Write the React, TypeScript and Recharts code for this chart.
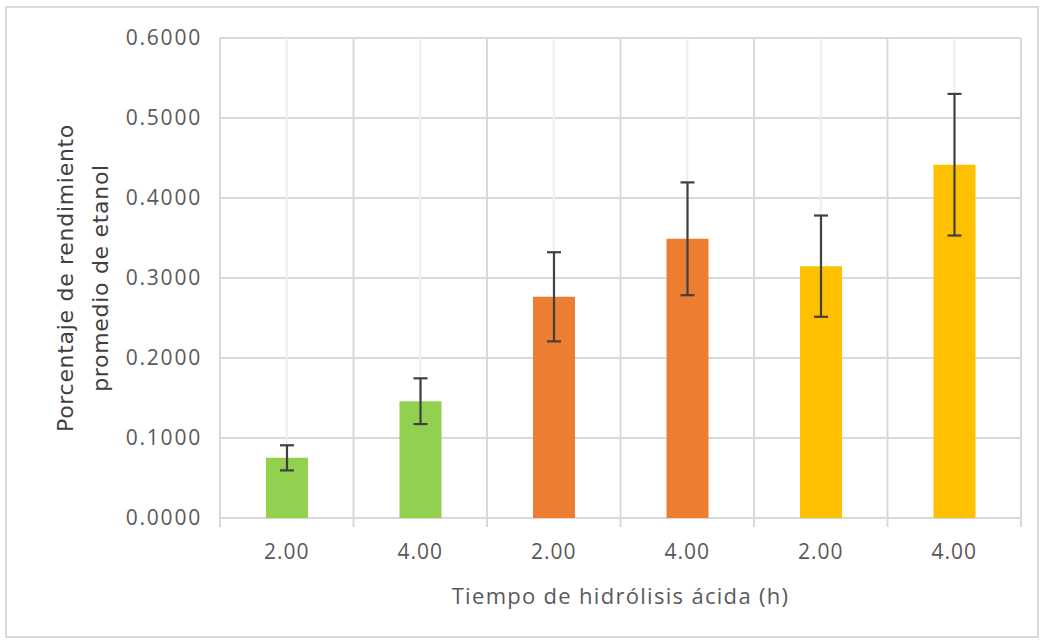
import React from "react";
import {
  BarChart,
  Bar,
  Cell,
  ErrorBar,
  XAxis,
  YAxis,
  CartesianGrid,
} from "recharts";

const timeLabels = ["2.00", "4.00", "2.00", "4.00", "2.00", "4.00"];
const yieldValues = [0.0752, 0.146, 0.2765, 0.349, 0.3148, 0.4416];
const yieldErrors = [0.0157, 0.0286, 0.0557, 0.0705, 0.0633, 0.0885];
const barColors = ["#92d050", "#92d050", "#ed7d31", "#ed7d31", "#ffc000", "#ffc000"];
const yTicks = [0, 0.1, 0.2, 0.3, 0.4, 0.5, 0.6];

const data = timeLabels.map((label, i) => ({
  label,
  value: yieldValues[i],
  err: yieldErrors[i],
}));

const GRID = "#d9d9d9";
const TEXT = "#595959";
const TICK_GAP = 26;

// category label plus the short boundary tick marks below the axis
const XTick = (props: any) => {
  const { x, y, payload, index, width, visibleTicksCount } = props;
  const band = width / visibleTicksCount;
  const top = y - TICK_GAP;
  return (
    <g>
      <line x1={x - band / 2} x2={x - band / 2} y1={top} y2={top + 9} stroke={GRID} strokeWidth={2} />
      {index === visibleTicksCount - 1 && (
        <line x1={x + band / 2} x2={x + band / 2} y1={top} y2={top + 9} stroke={GRID} strokeWidth={2} />
      )}
      <text
        x={x}
        y={y}
        dy="0.71em"
        textAnchor="middle"
        fill={TEXT}
        fontSize={21}
        letterSpacing={1}
        fontFamily="Open Sans"
      >
        {payload.value}
      </text>
    </g>
  );
};

const YTitle = (props: any) => {
  const vb = props.viewBox || { x: 0, y: 0, width: 0, height: 0 };
  const cy = vb.y + vb.height / 2;
  const style = { fill: "#404040", fontSize: 22, fontFamily: "DejaVu Sans", letterSpacing: 0.7 };
  return (
    <g>
      <text x={0} y={0} transform={`translate(73, ${cy}) rotate(-90)`} textAnchor="middle" {...style}>
        Porcentaje de rendimiento
      </text>
      <text x={0} y={0} transform={`translate(108, ${cy}) rotate(-90)`} textAnchor="middle" {...style}>
        promedio de etanol
      </text>
    </g>
  );
};

export default function App() {
  return (
    <div style={{ position: "absolute", left: 0, top: 0, width: 1045, height: 643, background: "#fff" }}>
      <div
        style={{
          position: "absolute",
          left: 5,
          top: 6,
          width: 1034,
          height: 632,
          border: "2px solid #d9d9d9",
          boxSizing: "border-box",
        }}
      />
      <BarChart
        width={1045}
        height={643}
        data={data}
        margin={{ top: 38, right: 24, left: 0, bottom: 0 }}
        barCategoryGap={0}
      >
        <CartesianGrid vertical={false} stroke={GRID} strokeWidth={2} />
        <CartesianGrid horizontal={false} stroke="#eeeeee" strokeWidth={2} />
        <CartesianGrid
          horizontal={false}
          stroke={GRID}
          strokeWidth={2}
          verticalCoordinatesGenerator={({ offset }: any) =>
            timeLabels.map((_, i) => offset.left + (i * offset.width) / timeLabels.length).concat(offset.left + offset.width)
          }
        />
        <XAxis
          dataKey="label"
          height={125}
          axisLine={false}
          tickLine={false}
          tickSize={0}
          tickMargin={TICK_GAP}
          tick={<XTick />}
          label={{
            value: "Tiempo de hidrólisis ácida (h)",
            position: "insideBottom",
            offset: 39,
            fill: TEXT,
            fontSize: 22,
            letterSpacing: 1.3,
            fontFamily: "Open Sans",
          }}
        />
        <YAxis
          width={220}
          domain={[0, 0.6]}
          ticks={yTicks}
          axisLine={false}
          tickLine={false}
          tickSize={0}
          tickMargin={18}
          tickFormatter={(v: number) => v.toFixed(4)}
          tick={{ fill: TEXT, fontSize: 21, fontFamily: "Open Sans", letterSpacing: 1.8 }}
          label={{ content: (p: any) => <YTitle {...p} /> }}
        />
        <Bar dataKey="value" barSize={42} isAnimationActive={false}>
          {data.map((d, i) => (
            <Cell key={i} fill={barColors[i]} />
          ))}
          <ErrorBar dataKey="err" width={7} stroke="#404040" strokeWidth={2.2} />
        </Bar>
      </BarChart>
    </div>
  );
}
